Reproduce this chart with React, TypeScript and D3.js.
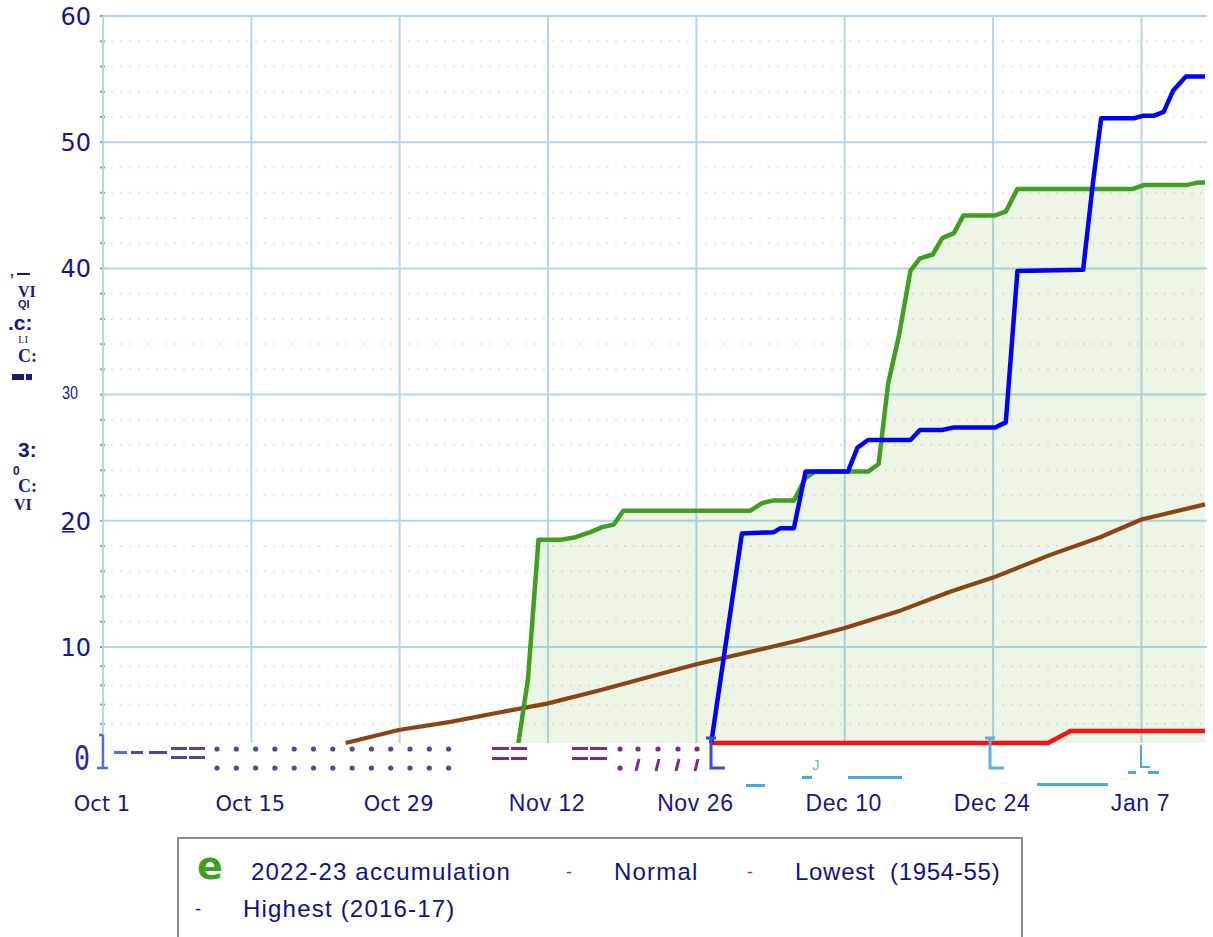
import React, { useEffect, useRef } from "react";
import * as d3 from "d3";

// days counted from Oct 1
const tickDays = [0, 14, 28, 42, 56, 70, 84, 98];
const tickLabels = ["Oct 1", "Oct 15", "Oct 29", "Nov 12", "Nov 26", "Dec 10", "Dec 24", "Jan 7"];
const yTicks = [10, 20, 30, 40, 50, 60];

const seasonDays = [39.2, 40.1, 41.1, 43.2, 44.6, 46.0, 47.1, 48.2, 49.1, 61.1, 62.2, 63.2, 65.2, 66.3, 67.2, 72.2, 73.2, 74.1, 75.1, 76.2, 77.1, 78.3, 79.2, 80.3, 81.2, 84.2, 85.2, 86.3, 97.2, 98.2, 102.2, 103.3, 104];
const seasonValues = [0, 6.6, 18.5, 18.5, 18.7, 19.1, 19.5, 19.7, 20.8, 20.8, 21.4, 21.6, 21.6, 23.4, 23.9, 23.9, 24.5, 30.9, 34.6, 39.8, 40.8, 41.1, 42.4, 42.8, 44.2, 44.2, 44.5, 46.3, 46.3, 46.6, 46.6, 46.8, 46.8];

const highestDays = [57.4, 60.3, 63.3, 63.9, 65.2, 66.3, 70.3, 71.2, 72.2, 76.2, 77.1, 79.2, 80.3, 84.2, 85.2, 86.3, 92.5, 93.4, 94.2, 97.3, 98.2, 99.2, 100.1, 101.0, 102.2, 104];
const highestValues = [0, 19.0, 19.1, 19.4, 19.4, 23.9, 23.9, 25.8, 26.4, 26.4, 27.2, 27.2, 27.4, 27.4, 27.8, 39.8, 39.9, 46.6, 51.9, 51.9, 52.1, 52.1, 52.4, 54.1, 55.2, 55.2];

const lowestDays = [57.4, 89.2, 91.3, 104];
const lowestValues = [0, 0, 1.25, 1.25];

const normalDays = [22.9, 27.9, 32.8, 37.5, 41.9, 46.9, 51.6, 56.0, 61.1, 65.8, 70.0, 75.3, 80.0, 84.0, 89.4, 94.1, 98.0, 104];
const normalValues = [0, 1.35, 2.2, 3.2, 4.1, 5.5, 6.9, 8.2, 9.5, 10.55, 11.5, 12.9, 14.4, 15.5, 17.3, 18.7, 20.1, 21.3];

const NAVY = "#16168c";

function App() {
  const svgRef = useRef<SVGSVGElement>(null);

  useEffect(() => {
    const svg = d3.select(svgRef.current);
    svg.selectAll("*").remove();

    const left = 103, right = 1205, top = 16, bottom = 743;
    const x = d3.scaleLinear().domain([0, 104]).range([left, right]);
    const y = d3.scaleLinear().domain([0, 10, 60]).range([bottom, 647, top]);

    const g = svg.append("g");

    // minor dotted lines + little ticks
    const minors = d3.range(2, 61, 2);
    g.selectAll(".minor")
      .data(minors.filter(d => d % 10 !== 0))
      .join("line")
      .attr("x1", left + 8).attr("x2", right)
      .attr("y1", d => y(d)).attr("y2", d => y(d))
      .attr("stroke", "#e8e8e8").attr("stroke-width", 2)
      .attr("stroke-dasharray", "2,7");
    g.selectAll(".mtick")
      .data(minors)
      .join("line")
      .attr("x1", left - 3).attr("x2", left + 2)
      .attr("y1", d => y(d)).attr("y2", d => y(d))
      .attr("stroke", "#9a9a9a").attr("stroke-width", 2);

    // major grid
    g.selectAll(".hgrid")
      .data(yTicks)
      .join("line")
      .attr("x1", left).attr("x2", right + 2)
      .attr("y1", d => y(d)).attr("y2", d => y(d))
      .attr("stroke", "#b4d5ee").attr("stroke-width", 2);
    g.selectAll(".vgrid")
      .data(tickDays)
      .join("line")
      .attr("x1", d => x(d)).attr("x2", d => x(d))
      .attr("y1", top).attr("y2", bottom)
      .attr("stroke", "#b4d5ee").attr("stroke-width", 2);

    const pts = (ds: number[], vs: number[]) => ds.map((d, i) => [d, vs[i]] as [number, number]);

    // fill under the season line
    const area = d3.area<[number, number]>()
      .x(d => x(d[0])).y0(y(0)).y1(d => y(d[1]));
    g.append("path")
      .attr("d", area(pts(seasonDays, seasonValues)))
      .attr("fill", "rgba(90,160,40,0.11)");

    const line = d3.line<[number, number]>().x(d => x(d[0])).y(d => y(d[1]));
    const series = [
      { p: pts(normalDays, normalValues), c: "#8b4513", w: 4.2 },
      { p: pts(lowestDays, lowestValues), c: "#ff1010", w: 4.5 },
      { p: pts(seasonDays, seasonValues), c: "#3ea01e", w: 4.5 },
      { p: pts(highestDays, highestValues), c: "#0000ff", w: 4.5 },
    ];
    series.forEach(s => {
      g.append("path")
        .attr("d", line(s.p))
        .attr("fill", "none")
        .attr("stroke", s.c)
        .attr("stroke-width", s.w)
        .attr("stroke-linejoin", "round");
    });

    // y labels
    g.selectAll(".ylab")
      .data(yTicks.filter(d => d !== 30))
      .join("text")
      .attr("x", 91).attr("y", d => y(d) + 9)
      .attr("text-anchor", "end")
      .style("font-family", "DejaVu Sans").style("font-size", "24px")
      .attr("fill", NAVY)
      .text(d => d);
    g.append("text")
      .attr("x", 62).attr("y", y(30) + 4)
      .attr("textLength", 16).attr("lengthAdjust", "spacingAndGlyphs")
      .style("font-family", "Liberation Sans").style("font-size", "18px")
      .attr("fill", NAVY).text("30");
    g.append("line").attr("x1", 62).attr("x2", 75).attr("y1", y(20) + 11).attr("y2", y(20) + 11)
      .attr("stroke", NAVY).attr("stroke-width", 1.5);
    g.append("text")
      .attr("x", 74).attr("y", 770)
      .attr("textLength", 16).attr("lengthAdjust", "spacingAndGlyphs")
      .style("font-family", "DejaVu Sans Mono").style("font-size", "34px")
      .attr("fill", "#2a2a9a").text("0");

    // x labels
    g.selectAll(".xlab")
      .data(tickDays)
      .join("text")
      .attr("x", d => x(d) - 1).attr("y", 811)
      .attr("text-anchor", "middle")
      .style("font-family", (d, i) => (i < 3 ? "DejaVu Sans" : "Liberation Sans"))
      .style("font-size", (d, i) => (i < 3 ? "21px" : "23px"))
      .style("letter-spacing", (d, i) => (i < 3 ? "0px" : "0.6px"))
      .attr("fill", NAVY)
      .text((d, i) => tickLabels[i]);

    // garbled axis title and bottom artifacts of the source image
    const deco = svg.append("g").attr("fill", "#1a1a7a");
    const titleBits = [
      { t: "’", x: 10, y: 284, f: "Liberation Sans", s: 14, w: "bold" },
      { t: "VI", x: 18, y: 297, f: "Liberation Serif", s: 16, w: "bold" },
      { t: "QI", x: 18, y: 308, f: "Liberation Sans", s: 11, w: "bold" },
      { t: ".c:", x: 8, y: 330, f: "Liberation Sans", s: 21, w: "bold" },
      { t: "I.I", x: 18, y: 343, f: "Liberation Serif", s: 11, w: "normal" },
      { t: "C:", x: 18, y: 362, f: "Liberation Serif", s: 18, w: "bold" },
      { t: "3:", x: 18, y: 457, f: "Liberation Sans", s: 21, w: "bold" },
      { t: "0", x: 13, y: 475, f: "Liberation Sans", s: 12, w: "bold" },
      { t: "C:", x: 18, y: 492, f: "Liberation Serif", s: 18, w: "bold" },
      { t: "VI", x: 14, y: 510, f: "Liberation Serif", s: 16, w: "bold" },
    ];
    titleBits.forEach(b => {
      deco.append("text").attr("x", b.x).attr("y", b.y)
        .style("font-family", b.f).style("font-size", b.s + "px").style("font-weight", b.w)
        .text(b.t);
    });
    deco.append("rect").attr("x", 17).attr("y", 273).attr("width", 13).attr("height", 2);
    deco.append("rect").attr("x", 12).attr("y", 374).attr("width", 12).attr("height", 6);
    deco.append("rect").attr("x", 26).attr("y", 374).attr("width", 6).attr("height", 6);

    const bars = (xs: number[][], ys: number[], c: string) => xs.forEach(([a, b]) => ys.forEach(yy =>
      svg.append("rect").attr("x", a).attr("y", yy).attr("width", b - a).attr("height", 3).attr("fill", c)));
    bars([[114, 127]], [751], "#4a6fd8");
    bars([[131, 143], [149, 167]], [751], "#4a4a9a");
    bars([[171, 187], [189, 205]], [747, 756], "#4a4a9a");
    d3.range(13).forEach(i => {
      [749, 768].forEach(cy => svg.append("circle").attr("cx", 217 + i * 19.3).attr("cy", cy).attr("r", 2.6).attr("fill", "#4a4a9a"));
    });
    bars([[492, 509], [511, 527], [572, 588], [590, 607]], [747, 757], "#7a2a8a");
    [620, 638, 658, 678, 697].forEach((cx, i) => {
      svg.append("circle").attr("cx", cx).attr("cy", 749).attr("r", 2.6).attr("fill", "#7a2a8a");
      if (i === 0) svg.append("circle").attr("cx", cx).attr("cy", 768).attr("r", 2.6).attr("fill", "#7a2a8a");
      else svg.append("line").attr("x1", cx - 2).attr("x2", cx + 1).attr("y1", 771).attr("y2", 759)
        .attr("stroke", "#7a2a8a").attr("stroke-width", 3);
    });
    const bracket = (xx: number, c: string, t: number) => svg.append("path")
      .attr("d", `M${xx - 5},${t} H${xx + 5} M${xx},${t} V768 H${xx + 14}`)
      .attr("fill", "none").attr("stroke", c).attr("stroke-width", 3);
    bracket(711, "#3a4ad8", 738);
    bracket(990, "#5ab0e0", 738);
    svg.append("path").attr("d", "M103,735 H99 M103,735 V768 M97,768 H108")
      .attr("fill", "none").attr("stroke", "#4a6fd8").attr("stroke-width", 2.5);
    bars([[746, 765]], [784], "#4aa8e0");
    bars([[802, 812], [848, 902]], [776], "#4aa8e0");
    bars([[1037, 1108]], [783], "#4aa8e0");
    bars([[1128, 1136], [1148, 1159]], [771], "#4aa8e0");
    svg.append("path").attr("d", "M1141,745 V767 H1150").attr("fill", "none").attr("stroke", "#4aa8e0").attr("stroke-width", 2);
    svg.append("text").attr("x", 812).attr("y", 770).style("font-family", "Liberation Sans").style("font-size", "15px")
      .attr("fill", "#6ab8e8").text("J");

    // legend
    const lg = svg.append("g");
    lg.append("rect").attr("x", 178).attr("y", 838).attr("width", 844).attr("height", 130)
      .attr("fill", "#fff").attr("stroke", "#666").attr("stroke-width", 1.5);
    lg.append("text").attr("x", 197).attr("y", 879)
      .style("font-family", "DejaVu Sans").style("font-size", "38px").style("font-weight", "bold")
      .attr("fill", "#3ea01e").text("e");
    const legendItems = [
      { t: "2022-23 accumulation", x: 251, y: 880, m: null, mx: 0, c: "", ls: 1.2 },
      { t: "Normal", x: 614, y: 880, m: "-", mx: 566, c: "#8b4513", ls: 1.2 },
      { t: "Lowest  (1954-55)", x: 795, y: 880, m: "-", mx: 747, c: "#ff1010", ls: 0.7 },
      { t: "Highest (2016-17)", x: 243, y: 917, m: "-", mx: 195, c: "#0000ff", ls: 1.2 },
    ];
    legendItems.forEach(it => {
      lg.append("text").attr("x", it.x).attr("y", it.y)
        .style("font-family", "Liberation Sans").style("font-size", "24px")
        .style("letter-spacing", it.ls + "px").style("white-space", "pre")
        .attr("fill", "#10108a").text(it.t);
      if (it.m) {
        lg.append("text").attr("x", it.mx).attr("y", it.y - 2)
          .style("font-family", "Liberation Sans").style("font-size", "18px")
          .attr("fill", it.c).text(it.m);
      }
    });
  }, []);

  return (
    <svg ref={svgRef} width={1213} height={937}
      style={{ position: "absolute", left: 0, top: 0, display: "block", background: "#fff" }} />
  );
}

export default App;
